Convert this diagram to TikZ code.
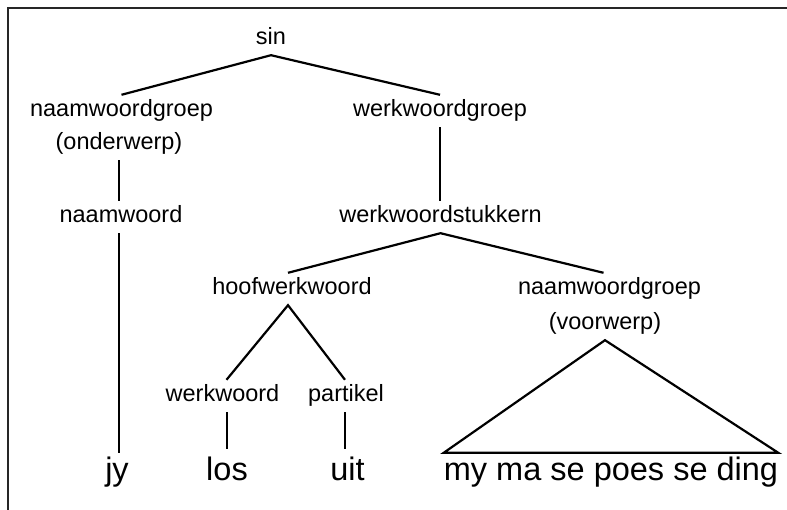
\documentclass[tikz,border=0pt]{standalone}
\usepackage{fontspec}
\setmainfont{Liberation Sans}
\begin{document}
\begin{tikzpicture}[x=1pt,y=-1pt,
  lbl/.style={font=\fontsize{23.5}{28}\selectfont, text height=15pt, text depth=3pt, inner ysep=7pt, inner xsep=0pt, anchor=base},
  word/.style={font=\fontsize{32.5}{38}\selectfont, text height=22pt, text depth=7pt, inner ysep=5pt, inner xsep=0pt, anchor=base},
  edge/.style={line width=2.2pt},
  frame/.style={line width=2.4pt, draw=black!85}]
\useasboundingbox (0,0) rectangle (787,510);
\draw[frame] (788,8) -- (8,8) -- (8,511);
% nodes
\node[lbl] (sin) at (271,45) {sin};
\node[lbl] (nwg1) at (121.5,117) {naamwoordgroep};
\node[lbl] (nwr) at (119,150) {(onderwerp)};
\node[lbl] (wwg) at (440,117) {werkwoordgroep};
\node[lbl] (nw) at (121,223) {naamwoord};
\node[lbl] (wwsk) at (440.5,223) {werkwoordstukkern};
\node[lbl] (hoof) at (292,295) {hoofwerkwoord};
\node[lbl] (nwg2) at (609.5,295) {naamwoordgroep};
\node[lbl] (vw) at (605,330) {(voorwerp)};
\node[lbl] (ww) at (222.5,402) {werkwoord};
\node[lbl] (part) at (346,402) {partikel};
\node[word] (jy) at (117,480) {jy};
\node[word] (los) at (227,480) {los};
\node[word] (uit) at (347.5,480) {uit};
\node[word] (ding) at (611,480) {my ma se poes se ding};
% connectors
\draw[edge] (nwg1.north) -- (sin.south) -- (wwg.north);
\draw[edge] (nwr.south) -- (nwr.south |- nw.north);
\draw[edge] (nwr.south |- nw.south) -- (nwr.south |- jy.north);
\draw[edge] (wwg.south) -- (wwg.south |- wwsk.north);
\draw[edge] ([xshift=-4pt]hoof.north) -- (wwsk.south) -- ([xshift=-6pt]nwg2.north);
\draw[edge] ([xshift=4pt]ww.north) -- ([xshift=-4pt]hoof.south) -- ([xshift=-1pt]part.north);
\draw[edge, shorten >=4pt] (los.north |- ww.south) -- (los.north);
\draw[edge, shorten >=4pt] ([xshift=-1pt]part.south) -- ([xshift=-1pt]part.south |- uit.north);
\draw[edge, line join=miter] (vw.south) -- (ding.north east) -- (ding.north west) -- cycle;
\end{tikzpicture}
\end{document}
